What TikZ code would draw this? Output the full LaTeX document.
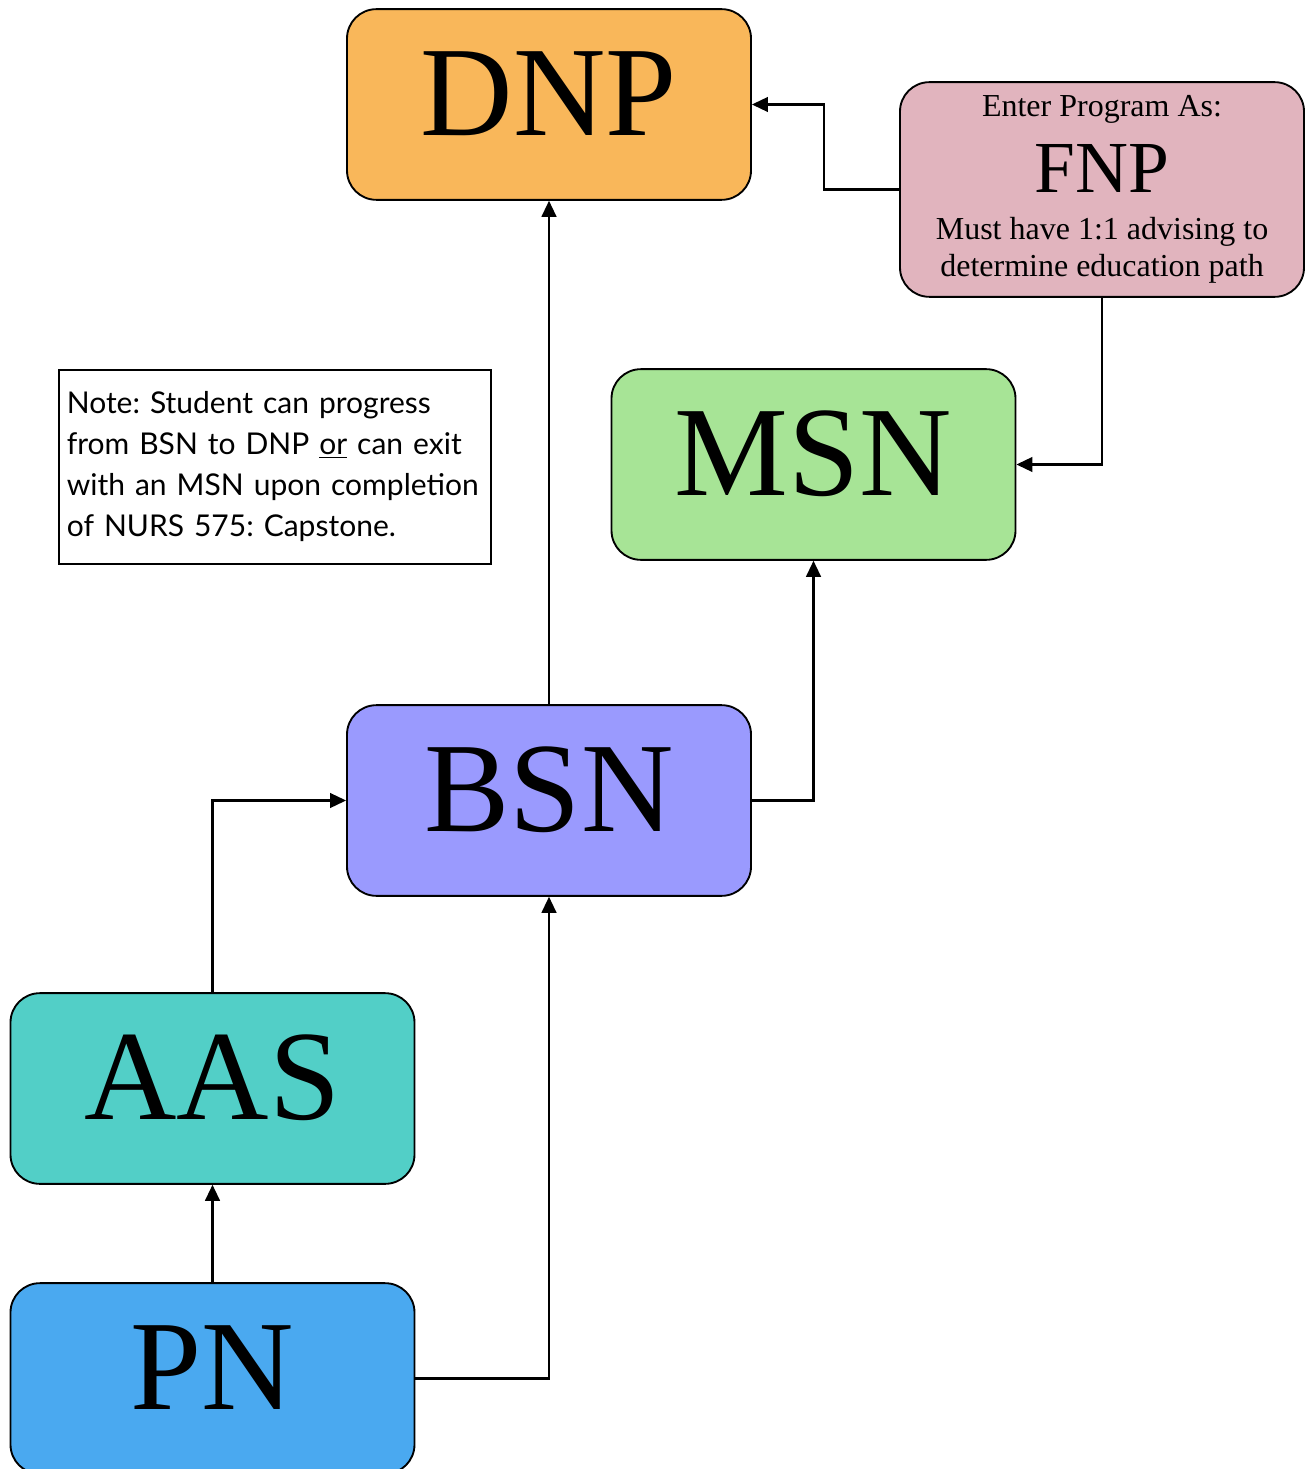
\documentclass[tikz,border=0pt]{standalone}
\usepackage{fontspec}
\setmainfont{Liberation Serif}
\newfontfamily\notefont{Lato}
\usetikzlibrary{arrows.meta}
\definecolor{dnpcol}{HTML}{F9B75A}
\definecolor{fnpcol}{HTML}{E1B4BE}
\definecolor{msncol}{HTML}{A7E496}
\definecolor{bsncol}{HTML}{9A9AFE}
\definecolor{aascol}{HTML}{52CFC7}
\definecolor{pncol}{HTML}{4AA9F0}
\tikzset{
  stage/.style={draw, line width=1.4pt, rounded corners=22pt, minimum width=303pt, minimum height=143pt, inner sep=0pt},
  degree/.style={stage, font=\fontsize{96}{96}\selectfont, text height=63pt, text depth=17pt},
  link/.style={line width=1.6pt, -{Triangle[length=12pt,width=11pt]}}
}
\begin{document}
\begin{tikzpicture}[x=0.75pt, y=-0.75pt]
    \useasboundingbox (0,0) rectangle (1305,1469);
    % boxes
    \node [degree, fill=dnpcol] (dnp) at (549, 104.5) {DNP};
    \node [stage, fill=fnpcol, minimum height=161pt, align=center, font=\fontsize{24}{27.75}\selectfont] (fnp) at (1102, 189.5)
        {Enter Program As:\\[29.25pt]\smash{\fontsize{55}{55}\selectfont FNP}\\[7.5pt]Must have 1:1 advising to\\determine education path};
    \node [degree, fill=msncol] (msn) at (813.5, 464.5) {MSN};
    \node [degree, fill=bsncol] (bsn) at (549, 800.5) {BSN};
    \node [degree, fill=aascol] (aas) at (212.5, 1088.5) {AAS};
    \node [degree, fill=pncol] (pn) at (212.5, 1378.5) {PN};
    \node [draw, line width=1.2pt, anchor=north west, minimum width=324pt, minimum height=145.5pt, inner xsep=6pt, text width=312pt, align=left, font=\notefont\fontsize{22.5}{30.75}\selectfont\frenchspacing] (note) at (58, 369)
        {Note: Student can progress\\from BSN to DNP \underline{or} can exit\\with an MSN upon completion\\of NURS 575: Capstone.};
    % connectors
    \draw [link] (fnp.west) -- ++(-75, 0) |- (dnp.east);
    \draw [link] (fnp.south) |- (msn.east);
    \draw [link] (bsn.north) -- (dnp.south);
    \draw [link] (bsn.east) -| (msn.south);
    \draw [link] (aas.north) |- (bsn.west);
    \draw [link] (pn.north) -- (aas.south);
    \draw [link] (pn.east) -| (bsn.south);
\end{tikzpicture}
\end{document}
